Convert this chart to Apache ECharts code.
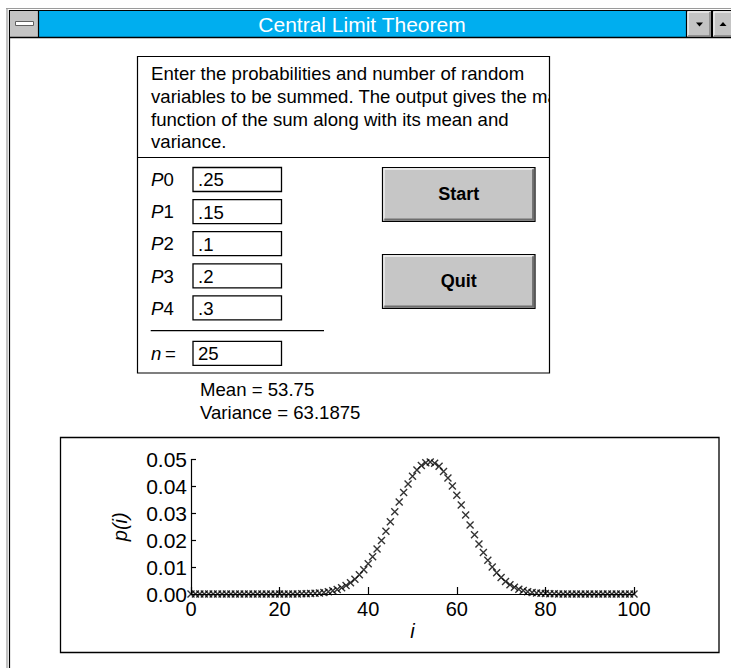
<!DOCTYPE html>
<html>
<head>
<meta charset="utf-8">
<script src="https://cdn.jsdelivr.net/npm/echarts@6/dist/echarts.min.js"></script>
<style>
html,body{margin:0;padding:0;background:#fff;}
#chart{width:731px;height:668px;}
</style>
</head>
<body>
<div id="chart"></div>
<script>
// ---- data ----
const windowTitle = 'Central Limit Theorem';
const descriptionLines = [
  'Enter the probabilities and number of random',
  'variables to be summed. The output gives the mass',
  'function of the sum along with its mean and',
  'variance.'
];
const probIndices = ['0', '1', '2', '3', '4'];
const probValues = ['.25', '.15', '.1', '.2', '.3'];
const nValue = '25';
const buttonLabels = ['Start', 'Quit'];
const meanText = 'Mean = 53.75';
const varianceText = 'Variance = 63.1875';

const iValues = [0,1,2,3,4,5,6,7,8,9,10,11,12,13,14,15,16,17,18,19,20,21,22,23,24,25,26,27,28,29,30,31,32,33,34,35,36,37,38,39,40,41,42,43,44,45,46,47,48,49,50,51,52,53,54,55,56,57,58,59,60,61,62,63,64,65,66,67,68,69,70,71,72,73,74,75,76,77,78,79,80,81,82,83,84,85,86,87,88,89,90,91,92,93,94,95,96,97,98,99,100];
const pValues = [
  0,0,0,0,0,0,0,0,0,0,
  0,0,0,0,0,0,0,0,0,0,
  0,0.00001,0.00002,0.00003,0.00004,0.00007,0.00011,0.00017,0.00026,0.00038,
  0.00058,0.00085,0.00120,0.00170,0.00234,0.00317,0.00422,0.00552,0.00712,0.00903,
  0.01125,0.01382,0.01671,0.01989,0.02330,0.02689,0.03056,0.03420,0.03769,0.04091,
  0.04375,0.04607,0.04779,0.04882,0.04909,0.04865,0.04746,0.04557,0.04310,0.04011,
  0.03674,0.03313,0.02938,0.02564,0.02200,0.01856,0.01540,0.01255,0.01005,0.00791,
  0.00611,0.00463,0.00345,0.00251,0.00180,0.00126,0.00087,0.00058,0.00037,0.00024,
  0.00015,0.00009,0.00005,0.00003,0.00002,0.00001,0,0,0,0,
  0,0,0,0,0,0,0,0,0,0,
  0
];
const xAxisTitle = 'i';
const yAxisTitle = 'p(i)';

// ---- drawing ----
const FONT = '"Liberation Sans", Arial, Helvetica, sans-serif';
const chart = echarts.init(document.getElementById('chart'), null, {renderer: 'svg'});

function rect(x, y, w, h, fill, stroke, lw, z) {
  return {type: 'rect', shape: {x: x, y: y, width: w, height: h}, style: {fill: fill, stroke: stroke || null, lineWidth: lw || 0}, z: z || 0, silent: true};
}
function line(x1, y1, x2, y2, stroke, lw, z) {
  return {type: 'line', shape: {x1: x1, y1: y1, x2: x2, y2: y2}, style: {stroke: stroke, lineWidth: lw}, z: z || 1, silent: true};
}
function poly(points, fill, z) {
  return {type: 'polygon', shape: {points: points}, style: {fill: fill}, z: z || 2, silent: true};
}
function polyline(points, stroke, lw, z) {
  return {type: 'polyline', shape: {points: points}, style: {stroke: stroke, lineWidth: lw, fill: null}, z: z || 2, silent: true};
}
function text(str, x, y, opts) {
  opts = opts || {};
  return {
    type: 'text', x: x, y: y, z: opts.z || 3, silent: true,
    style: {
      text: str,
      fill: opts.fill || '#000',
      fontSize: opts.size || 18,
      fontFamily: FONT,
      fontWeight: opts.weight || 'normal',
      fontStyle: opts.style || 'normal',
      align: opts.align || 'left',
      textAlign: opts.align || 'left',
      verticalAlign: 'middle',
      textVerticalAlign: 'middle'
    }
  };
}

const g = [];
// window frame
g.push(line(6, 8.5, 731, 8.5, '#9a9a9a', 1));
g.push(line(7, 8, 7, 668, '#9a9a9a', 1.2));
g.push(line(9.5, 10, 9.5, 668, '#000', 1.2));
g.push(line(9, 10.5, 731, 10.5, '#000', 1.2));
// title bar
g.push(rect(10, 11, 28, 26, '#c4c4c4', null, 0, 1));
g.push(rect(15.5, 21.5, 18, 4, '#ffffff', '#606060', 1, 2));
g.push(line(38.5, 11, 38.5, 37, '#000', 1.2, 2));
g.push(rect(39, 11, 647, 26, '#00AEEF', null, 0, 1));
g.push(text(windowTitle, 362, 24, {fill: '#ffffff', size: 21, align: 'center'}));
g.push(line(9, 37.5, 731, 37.5, '#000', 1.4, 2));
// scroll buttons
g.push(line(686.5, 11, 686.5, 37, '#000', 1.2, 2));
g.push(rect(687, 11, 24, 26, '#c4c4c4', null, 0, 1));
g.push(polyline([[688, 36], [688, 12], [710, 12]], '#ffffff', 1, 2));
g.push(polyline([[688, 36], [710, 36], [710, 12]], '#808080', 1.5, 2));
g.push(poly([[696, 22.5], [703, 22.5], [699.5, 26.5]], '#000', 3));
g.push(line(712, 11, 712, 37, '#000', 2, 2));
g.push(rect(713, 11, 18, 26, '#c4c4c4', null, 0, 1));
g.push(polyline([[714, 36], [714, 12], [731, 12]], '#ffffff', 1, 2));
g.push(line(714, 36, 731, 36, '#808080', 1.5, 2));
g.push(poly([[723, 22], [726.5, 26], [719.5, 26]], '#000', 3));

// input panel
descriptionLines.forEach(function (s, k) {
  g.push(text(s, 151, 73.8 + k * 22.7, {size: 18.6}));
});
// the panel clips text at its right edge
g.push(rect(550, 84, 60, 26, '#ffffff', null, 0, 4));
g.push(rect(137.5, 56.5, 412, 316.5, null, '#000', 1.2, 5));
g.push(line(137.5, 157.5, 549.5, 157.5, '#000', 1.2, 5));
probIndices.forEach(function (d, k) {
  const top = 167.5 + k * 32.1;
  g.push(text('P', 151, top + 12.2, {size: 18.6, style: 'italic'}));
  g.push(text(d, 163.5, top + 12.2, {size: 18.6}));
  g.push(rect(193, top, 88.5, 24, '#fff', '#000', 1.3, 1));
  g.push(text(probValues[k], 198, top + 12.4, {size: 18.6}));
});
g.push(line(150.7, 330.7, 324, 330.7, '#000', 1.2, 1));
g.push(text('n', 151, 353.5, {size: 18.6, style: 'italic'}));
g.push(text('=', 165, 353.5, {size: 18.6}));
g.push(rect(193, 341.3, 88.5, 24, '#fff', '#000', 1.3, 1));
g.push(text(nValue, 198, 353.5, {size: 18.6}));

// buttons
buttonLabels.forEach(function (lbl, k) {
  const x = 382.5, y = 167.5 + k * 87, w = 152.5, h = 54;
  g.push(rect(x, y, w, h, '#c6c6c6', '#000', 1.2, 1));
  g.push(polyline([[x + 1.5, y + h - 2], [x + 1.5, y + 1.5], [x + w - 2, y + 1.5]], '#f4f4f4', 1.3, 2));
  g.push(polyline([[x + 1.8, y + h - 1.8], [x + w - 1.8, y + h - 1.8], [x + w - 1.8, y + 1.8]], '#6e6e6e', 2.2, 2));
  g.push(text(lbl, x + w / 2, y + h / 2 - 1, {size: 18, weight: 'bold', align: 'center'}));
});

// output text
g.push(text(meanText, 200, 389.5, {size: 18.6}));
g.push(text(varianceText, 200, 412, {size: 18.6}));

// plot frame
g.push(rect(60.5, 437.5, 658.5, 215, null, '#000', 1.3, 0));

const option = {
  animation: false,
  backgroundColor: '#ffffff',
  textStyle: {fontFamily: FONT},
  graphic: {elements: g},
  grid: {left: 191, right: 97, top: 459.5, bottom: 74, containLabel: false},
  xAxis: {
    type: 'value', min: 0, max: 100, interval: 20,
    name: xAxisTitle, nameLocation: 'middle', nameGap: 27,
    nameTextStyle: {fontSize: 20, fontStyle: 'italic', color: '#000', fontFamily: FONT},
    axisLine: {show: true, onZero: false, lineStyle: {color: '#000', width: 1.2}},
    axisTick: {show: true, inside: true, length: 7, lineStyle: {color: '#000', width: 1.2}},
    axisLabel: {fontSize: 20, color: '#000', margin: 5, fontFamily: FONT},
    splitLine: {show: false}
  },
  yAxis: {
    type: 'value', min: 0, max: 0.05, interval: 0.01,
    name: yAxisTitle, nameLocation: 'middle', nameGap: 61, nameRotate: 90,
    nameTextStyle: {fontSize: 20, fontStyle: 'italic', color: '#000', fontFamily: FONT},
    axisLine: {show: true, onZero: false, lineStyle: {color: '#000', width: 1.2}},
    axisTick: {show: true, inside: true, length: 5, lineStyle: {color: '#000', width: 1.2}},
    axisLabel: {fontSize: 21, color: '#000', margin: 4, fontFamily: FONT,
      formatter: function (v) { return v.toFixed(2); }},
    splitLine: {show: false}
  },
  series: [{
    type: 'scatter',
    data: iValues.map(function (i, k) { return [i, pValues[k]]; }),
    symbol: 'path://M0,0L10,10M10,0L0,10',
    symbolSize: 7,
    itemStyle: {color: 'rgba(0,0,0,0)', borderColor: '#000', borderWidth: 1.4},
    clip: false,
    z: 5
  }]
};
chart.setOption(option);
</script>
</body>
</html>
